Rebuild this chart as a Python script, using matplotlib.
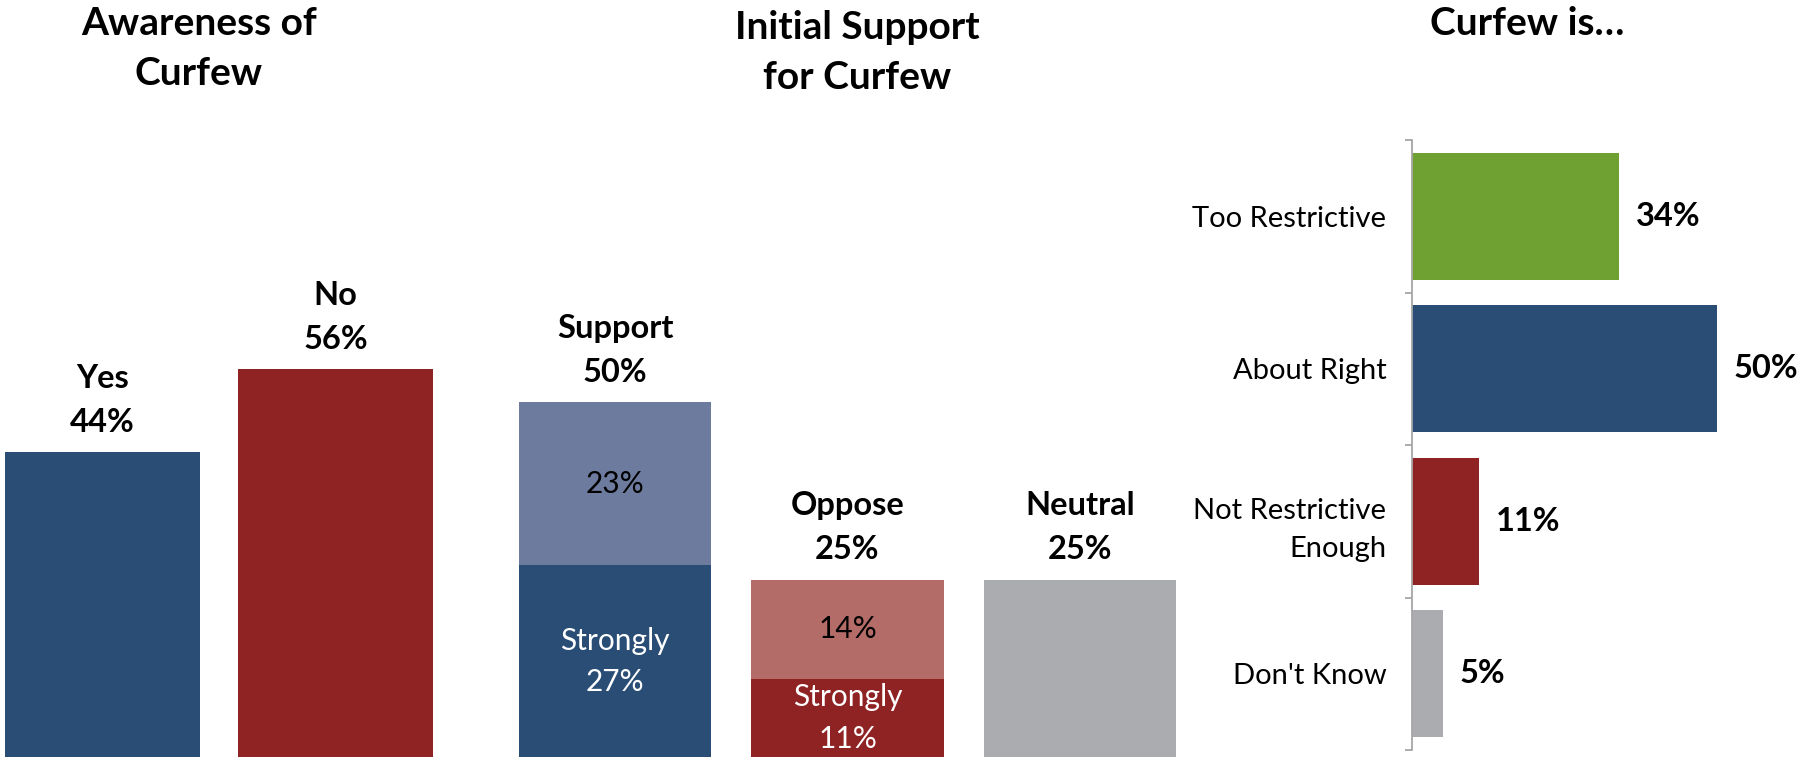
import matplotlib
matplotlib.use("Agg")
import matplotlib.pyplot as plt

plt.rcParams['font.family'] = ['Lato', 'DejaVu Sans']

# --- data -------------------------------------------------------------
aware_cats = ["Yes", "No"]
aware_vals = [44, 56]

support_cats = ["Support", "Oppose", "Neutral"]
support_strong = [27, 11, 0]
support_rest = [23, 14, 25]

curfew_cats = ["Too Restrictive", "About Right", "Not Restrictive\nEnough", "Don't Know"]
curfew_vals = [34, 50, 11, 5]

# --- colours ----------------------------------------------------------
NAVY = "#294D75"
NAVY_LT = "#6C7B9E"
RED = "#8F2323"
RED_LT = "#B46C68"
GREY = "#ABACAF"
GREEN = "#6EA132"

W, H = 1802, 757
fig = plt.figure(figsize=(W / 100, H / 100), dpi=100)


def px_axes(x0, x1, y0, y1):
    """Axes placed in pixel units (y measured from the top)."""
    return fig.add_axes([x0 / W, 1 - y1 / H, (x1 - x0) / W, (y1 - y0) / H])


def clean(ax):
    for s in ax.spines.values():
        s.set_visible(False)
    ax.set_xticks([])
    ax.set_yticks([])
    ax.patch.set_alpha(0)


LABEL_FS = 23.5
INNER_FS = 21.5
CAT_FS = 21
VALUE_FS = 23.5
TITLE_FS = 28
LS_LABEL = 1.62
LS_INNER = 1.57
LS_TITLE = 1.52

# --- panel 1: awareness ----------------------------------------------
ax1 = px_axes(0, 470, 0, H)
clean(ax1)
x1 = list(range(len(aware_cats)))
ax1.bar(x1, aware_vals, width=0.837, color=[NAVY, RED])
ax1.set_xlim(-102.3 / 233.2, (470 - 102.3) / 233.2)
ax1.set_ylim(0, H / 6.93)
for xi, cat, v in zip(x1, aware_cats, aware_vals):
    ax1.annotate(f"{cat}\n{v}%", (xi, v), xytext=(0, 11), textcoords="offset points",
                 ha="center", va="bottom", fontsize=LABEL_FS, fontweight="bold",
                 linespacing=LS_LABEL)

# --- panel 2: initial support ----------------------------------------
ax2 = px_axes(470, 1200, 0, H)
clean(ax2)
x2 = list(range(len(support_cats)))
strong_cols = [NAVY, RED, GREY]
rest_cols = [NAVY_LT, RED_LT, GREY]
ax2.bar(x2, support_strong, width=0.826, color=strong_cols)
ax2.bar(x2, support_rest, bottom=support_strong, width=0.826, color=rest_cols)
ax2.set_xlim(-(615 - 470) / 232.5, (1200 - 615) / 232.5)
ax2.set_ylim(0, H / 7.1)
for xi, cat, s, r in zip(x2, support_cats, support_strong, support_rest):
    total = s + r
    ax2.annotate(f"{cat}\n{total}%", (xi, total), xytext=(0, 11), textcoords="offset points",
                 ha="center", va="bottom", fontsize=LABEL_FS, fontweight="bold",
                 linespacing=LS_LABEL)
    if s > 0:
        ax2.text(xi, s / 2, f"Strongly\n{s}%", ha="center", va="center",
                 fontsize=INNER_FS, color="white", linespacing=LS_INNER)
        ax2.text(xi, s + r / 2, f"{r}%", ha="center", va="center",
                 fontsize=INNER_FS, color="black")

# --- panel 3: curfew is... -------------------------------------------
ax3 = px_axes(1412, W, 140, 750)
y3 = list(range(len(curfew_cats)))
ax3.barh(y3, curfew_vals, height=0.83, color=[GREEN, NAVY, RED, GREY])
ax3.set_ylim(len(curfew_cats) - 0.5, -0.5)
ax3.set_xlim(0, (W - 1412) / 6.1)
for s in ["top", "right", "bottom"]:
    ax3.spines[s].set_visible(False)
ax3.spines["left"].set_color("#A6A6A6")
ax3.spines["left"].set_linewidth(1.3)
ax3.set_xticks([])
ax3.set_yticks(y3)
ax3.set_yticklabels(curfew_cats, fontsize=CAT_FS, linespacing=LS_INNER)
ax3.set_yticks([i - 0.5 for i in range(len(curfew_cats) + 1)], minor=True)
ax3.tick_params(axis="y", which="major", length=0, pad=18.5)
ax3.tick_params(axis="y", which="minor", length=5, width=1.3, color="#A6A6A6", direction="out")
ax3.patch.set_alpha(0)
for yi, v in zip(y3, curfew_vals):
    ax3.annotate(f"{v}%", (v, yi), xytext=(12, 0), textcoords="offset points",
                 ha="left", va="center", fontsize=VALUE_FS, fontweight="bold")

# --- panel titles ------------------------------------------------------
fig.text(199 / W, 1 - 6 / H, "Awareness of\nCurfew", ha="center", va="top",
         fontsize=TITLE_FS, fontweight="bold", linespacing=LS_TITLE)
fig.text(857 / W, 1 - 10 / H, "Initial Support\nfor Curfew", ha="center", va="top",
         fontsize=TITLE_FS, fontweight="bold", linespacing=LS_TITLE)
fig.text(1527 / W, 1 - 6 / H, "Curfew is\u2026", ha="center", va="top",
         fontsize=TITLE_FS, fontweight="bold")

fig.savefig("out.png", dpi=100)
